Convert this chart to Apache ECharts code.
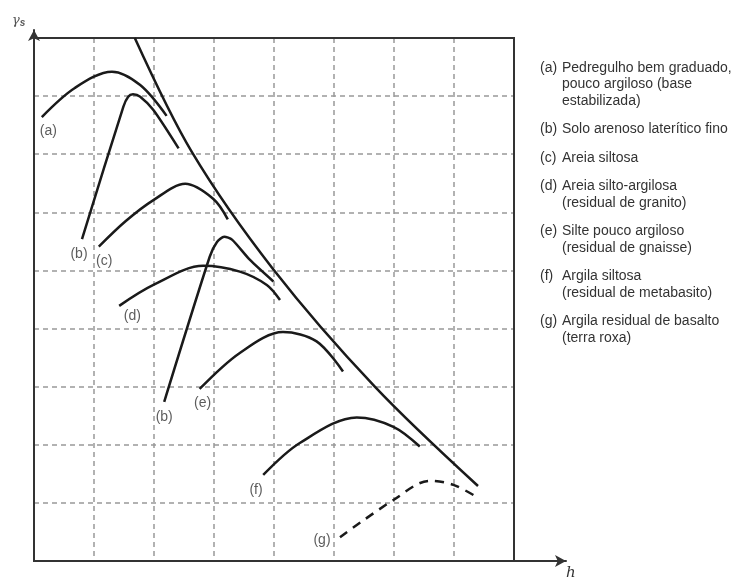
<!DOCTYPE html>
<html>
<head>
<meta charset="utf-8">
<script src="https://cdn.jsdelivr.net/npm/echarts@6/dist/echarts.min.js"></script>
<style>
  html, body { margin: 0; padding: 0; background: #fff; }
  #chart { width: 737px; height: 579px; }
</style>
</head>
<body>
<div id="chart"></div>
<script>
// Compaction curves: dry unit weight (γs) versus moisture content (h)
// Axis values are in grid units (one unit per dashed grid cell).
const xTicks = [0, 1, 2, 3, 4, 5, 6, 7, 8];
const yTicks = [0, 1, 2, 3, 4, 5, 6, 7, 8, 9];

const curveA  = [[0.13, 7.64], [0.68, 8.14], [1.30, 8.42], [1.77, 8.19], [2.21, 7.66]];
const curveB1 = [[0.80, 5.54], [1.49, 7.82], [1.57, 7.99], [1.65, 8.03], [1.77, 7.99], [1.99, 7.76], [2.41, 7.10]];
const curveC  = [[1.08, 5.41], [1.53, 5.85], [1.99, 6.21], [2.52, 6.49], [2.99, 6.23], [3.23, 5.88]];
const curveD  = [[1.42, 4.39], [1.99, 4.75], [2.82, 5.08], [3.43, 4.98], [3.88, 4.75], [4.10, 4.49]];
const curveB2 = [[2.17, 2.74], [2.93, 5.24], [3.05, 5.49], [3.17, 5.58], [3.30, 5.53], [3.60, 5.18], [3.99, 4.81]];
const curveE  = [[2.76, 2.96], [3.43, 3.58], [4.15, 3.94], [4.71, 3.78], [5.15, 3.26]];
const curveF  = [[3.82, 1.48], [4.43, 2.03], [5.38, 2.47], [5.99, 2.31], [6.43, 1.97]];
const curveG  = [[5.10, 0.41], [5.99, 1.05], [6.60, 1.38], [6.99, 1.31], [7.38, 1.10]];
const saturation = [[1.68, 9.00], [2.63, 7.04], [3.98, 5.03], [5.68, 3.00], [7.40, 1.29]];

// Curve tags placed next to the start of each curve
const tagNames = ['(a)', '(b)', '(c)', '(d)', '(b)', '(e)', '(f)', '(g)'];
const tagX = [0.24, 0.75, 1.17, 1.64, 2.17, 2.81, 3.70, 4.80];
const tagY = [7.39, 5.28, 5.16, 4.22, 2.47, 2.71, 1.22, 0.36];

// Soil descriptions listed beside the plot
const legendTags = ['(a)', '(b)', '(c)', '(d)', '(e)', '(f)', '(g)'];
const legendLines = [
  ['Pedregulho bem graduado,', 'pouco argiloso (base', 'estabilizada)'],
  ['Solo arenoso laterítico fino'],
  ['Areia siltosa'],
  ['Areia silto-argilosa', '(residual de granito)'],
  ['Silte pouco argiloso', '(residual de gnaisse)'],
  ['Argila siltosa', '(residual de metabasito)'],
  ['Argila residual de basalto', '(terra roxa)']
];

const FONT = '"Liberation Sans", Arial, sans-serif';
const INK = '#1a1a1a';
const TEXT = '#333';

const chart = echarts.init(document.getElementById('chart'), null, { renderer: 'canvas' });

function curve(data, opts) {
  return Object.assign({
    type: 'line',
    xAxisIndex: 0, yAxisIndex: 0,
    data: data,
    showSymbol: false,
    symbol: 'none',
    smooth: 0.33,
    silent: true,
    lineStyle: { color: INK, width: 2.5 },
    z: 5
  }, opts || {});
}

// Legend text as graphic elements
const legendGraphics = [];
let y = 69;
legendTags.forEach((tag, i) => {
  legendGraphics.push({
    type: 'text', left: 540, top: y - 8,
    style: { text: tag, font: '14px ' + FONT, fill: TEXT }
  });
  legendLines[i].forEach((line, j) => {
    legendGraphics.push({
      type: 'text', left: 562, top: y - 8,
      style: { text: line, font: '14px ' + FONT, fill: TEXT }
    });
    if (j < legendLines[i].length - 1) y += 16.5;
  });
  y += 28.5;
});

const option = {
  animation: false,
  backgroundColor: '#fff',
  grid: [
    { left: 34, top: 38, width: 480, height: 523, show: true, borderColor: '#333', borderWidth: 2, z: 1 },
    { left: 34, top: 30, width: 532, height: 531, show: false }
  ],
  xAxis: [
    {
      gridIndex: 0, type: 'value', min: xTicks[0], max: xTicks[xTicks.length - 1], interval: 1,
      axisLine: { show: false }, axisTick: { show: false }, axisLabel: { show: false },
      splitLine: { show: true, lineStyle: { color: '#999', width: 1.5, type: [5, 4] } }
    },
    {
      gridIndex: 1, type: 'value', min: 0, max: 1,
      axisLine: { show: true, onZero: false, symbol: ['none', 'arrow'], symbolSize: [9, 11], lineStyle: { color: '#333', width: 2 } },
      axisTick: { show: false }, axisLabel: { show: false }, splitLine: { show: false }
    }
  ],
  yAxis: [
    {
      gridIndex: 0, type: 'value', min: yTicks[0], max: yTicks[yTicks.length - 1], interval: 1,
      axisLine: { show: false }, axisTick: { show: false }, axisLabel: { show: false },
      splitLine: { show: true, lineStyle: { color: '#999', width: 1.5, type: [5, 4] } }
    },
    {
      gridIndex: 1, type: 'value', min: 0, max: 1,
      axisLine: { show: true, onZero: false, symbol: ['none', 'arrow'], symbolSize: [9, 11], lineStyle: { color: '#333', width: 2 } },
      axisTick: { show: false }, axisLabel: { show: false }, splitLine: { show: false }
    }
  ],
  graphic: [
    {
      type: 'text', left: 12, top: 14,
      style: {
        text: '{g|γ}{s|s}',
        rich: {
          g: { font: 'italic 13px "DejaVu Serif", serif', fill: '#555' },
          s: { font: 'italic bold 10px ' + FONT, fill: '#555', padding: [5, 0, 0, 0] }
        }
      }
    },
    {
      type: 'text', left: 566, top: 566,
      style: { text: 'h', font: 'italic 15px "DejaVu Serif", serif', fill: '#333' }
    }
  ].concat(legendGraphics),
  series: [
    curve(saturation),
    curve(curveA),
    curve(curveB1, { smooth: 0.25 }),
    curve(curveC),
    curve(curveD),
    curve(curveB2, { smooth: 0.25 }),
    curve(curveE),
    curve(curveF),
    curve(curveG, { lineStyle: { color: INK, width: 2.5, type: [9, 7] } }),
    {
      type: 'scatter',
      xAxisIndex: 0, yAxisIndex: 0,
      symbolSize: 0,
      silent: true,
      data: tagNames.map((n, i) => ({ name: n, value: [tagX[i], tagY[i]] })),
      label: {
        show: true, position: 'inside', formatter: '{b}',
        fontFamily: FONT, fontSize: 14, color: TEXT
      },
      z: 6
    }
  ]
};

chart.setOption(option);
</script>
</body>
</html>
